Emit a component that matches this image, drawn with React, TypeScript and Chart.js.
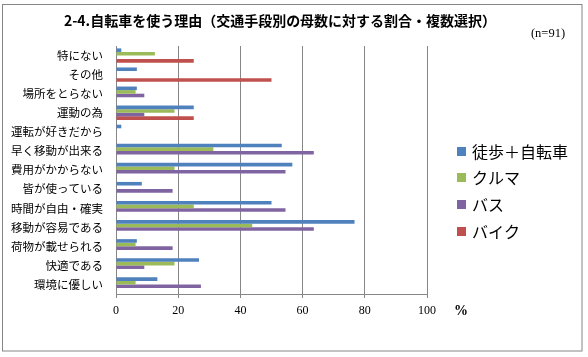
import React, { useEffect, useRef } from 'react';
import { Chart, registerables } from 'chart.js';

Chart.register(...registerables);

const titleText = '2-4.自転車を使う理由（交通手段別の母数に対する割合・複数選択）';
const noteText = '(n=91)';
const unitText = '%';

const categories = [
  '特にない',
  'その他',
  '場所をとらない',
  '運動の為',
  '運転が好きだから',
  '早く移動が出来る',
  '費用がかからない',
  '皆が使っている',
  '時間が自由・確実',
  '移動が容易である',
  '荷物が載せられる',
  '快適である',
  '環境に優しい',
];

const seriesNames = ['徒歩＋自転車', 'クルマ', 'バス', 'バイク'];
const seriesColors = ['#4F81BD', '#9BBB59', '#8064A2', '#C0504D'];

const walkBike = [1.7, 6.7, 6.7, 25, 1.7, 53.3, 56.7, 8.3, 50, 76.7, 6.7, 26.7, 13.3];
const car = [12.5, 0, 6.3, 18.8, 0, 31.3, 18.8, 0, 25, 43.8, 6.3, 18.8, 6.3];
const bus = [0, 0, 9.1, 9.1, 0, 63.6, 54.5, 18.2, 54.5, 63.6, 18.2, 9.1, 27.3];
const motorbike = [25, 50, 0, 25, 0, 0, 0, 0, 0, 0, 0, 0, 0];

const xTicks = [0, 20, 40, 60, 80, 100];

const JP = '"Noto Sans CJK JP", "Noto Sans", sans-serif';
const SERIF = '"Liberation Serif", "DejaVu Serif", serif';
const GRID = '#868686';

const decoPlugin = {
  id: 'deco',
  beforeDraw(chart: any) {
    const { ctx, width, height } = chart;
    ctx.save();
    ctx.fillStyle = '#ffffff';
    ctx.fillRect(0, 0, width, height);
    ctx.restore();
  },
  afterDraw(chart: any) {
    const { ctx } = chart;
    ctx.save();
    // outer frame
    ctx.strokeStyle = GRID;
    ctx.lineWidth = 1;
    ctx.strokeRect(2.5, 4.5, 579.5, 346.5);

    // title
    ctx.fillStyle = '#000';
    ctx.textAlign = 'center';
    ctx.textBaseline = 'middle';
    ctx.font = `bold 14px ${JP}`;
    ctx.fillText(titleText, 280, 21);

    // note
    ctx.font = `12.5px ${SERIF}`;
    ctx.fillText(noteText, 548, 34);

    // unit
    ctx.font = `bold 14px ${SERIF}`;
    ctx.fillText(unitText, 461, 311);

    // legend
    const ds = chart.data.datasets;
    ctx.textAlign = 'left';
    ctx.font = `16px ${JP}`;
    for (let i = 0; i < ds.length; i++) {
      const cy = 151 + i * 26.7;
      ctx.fillStyle = ds[i].backgroundColor;
      ctx.fillRect(457, Math.round(cy - 4.5), 9, 9);
      ctx.fillStyle = '#000';
      ctx.fillText(ds[i].label, 472, cy + 0.5);
    }
    ctx.restore();
  },
};

export default function App() {
  const ref = useRef<HTMLCanvasElement>(null);

  useEffect(() => {
    document.body.style.margin = '0';
    const seriesData = [walkBike, car, bus, motorbike];
    const chart = new Chart(ref.current as HTMLCanvasElement, {
      type: 'bar',
      data: {
        labels: categories,
        datasets: seriesNames.map((name, i) => ({
          label: name,
          data: seriesData[i],
          backgroundColor: seriesColors[i],
          borderWidth: 0,
          barPercentage: 1,
          categoryPercentage: 0.75,
        })),
      },
      options: {
        indexAxis: 'y',
        responsive: false,
        animation: false,
        devicePixelRatio: 1,
        layout: { padding: { top: 46, right: 161, left: 0, bottom: 0 } },
        plugins: {
          legend: { display: false },
          title: { display: false },
          tooltip: { enabled: false },
        },
        scales: {
          x: {
            type: 'linear',
            min: 0,
            max: 100,
            afterBuildTicks: (s: any) => {
              s.ticks = xTicks.map((v) => ({ value: v }));
            },
            afterFit: (s: any) => {
              s.height = 63;
            },
            ticks: {
              color: '#000',
              padding: 6,
              font: { family: SERIF, size: 12 },
            },
            grid: { color: GRID, tickLength: 4, drawTicks: true },
            border: { color: GRID },
          },
          y: {
            type: 'category',
            afterFit: (s: any) => {
              s.width = 116;
            },
            ticks: {
              color: '#000',
              padding: 13,
              autoSkip: false,
              font: { family: JP, size: 11.5 },
            },
            grid: { display: false, drawTicks: false },
            border: { display: true, color: GRID },
          },
        },
      },
      plugins: [decoPlugin],
    } as any);
    return () => chart.destroy();
  }, []);

  return (
    <div style={{ width: 588, height: 357 }}>
      <canvas ref={ref} width={588} height={357} style={{ display: 'block', width: 588, height: 357 }} />
    </div>
  );
}
